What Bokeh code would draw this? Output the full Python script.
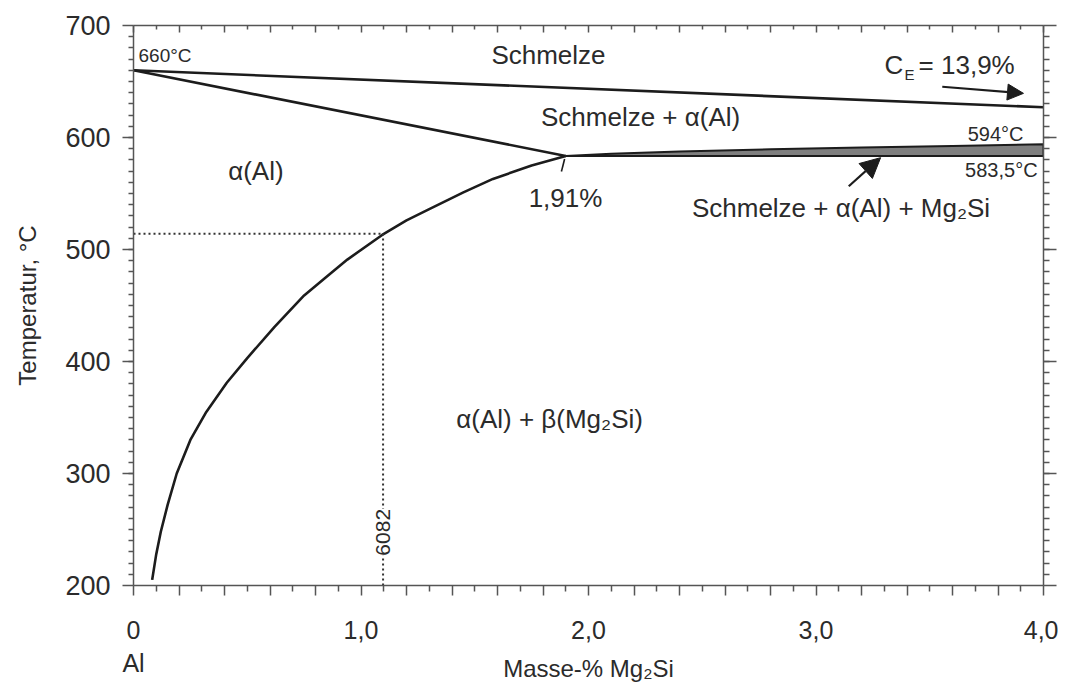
from bokeh.plotting import figure
from bokeh.models import (LinearAxis, FixedTicker, CustomJSTickFormatter, Label,
                          Arrow, NormalHead)
from bokeh.embed import file_html
from bokeh.resources import INLINE
import math

# ---------------- data ----------------
liquidus_x = [0.0, 4.0]
liquidus_y = [660.0, 627.0]

solidus_x = [0.0, 1.9]
solidus_y = [660.0, 583.5]

solvus_x = [0.082, 0.10, 0.12, 0.15, 0.19, 0.25, 0.32, 0.41, 0.50, 0.62,
            0.75, 0.85, 0.94, 1.093, 1.20, 1.30, 1.45, 1.58, 1.75, 1.90]
solvus_y = [205, 228, 248, 272, 300, 330, 355, 381, 403, 431,
            459, 476, 491, 513, 526, 536, 551, 563, 575, 583.5]

band_top_x = [1.9, 2.1, 2.4, 2.8, 3.2, 3.6, 4.0]
band_top_y = [583.5, 585.5, 587.5, 589.5, 591.0, 592.5, 594.0]
eutectic_T = 583.5

alloy_x = 1.097      # 6082
alloy_T = 514.0

x_ticks = [i / 5 for i in range(21)]
x_minor = [i / 10 for i in range(1, 40, 2)]
x_tick_labels = {0: "0\nAl", 1: "1,0", 2: "2,0", 3: "3,0", 4: "4,0"}
y_ticks = [200, 300, 400, 500, 600, 700]
y_minor = list(range(210, 700, 10))

FONT = "Liberation Sans"
TXT = "#2b2b2b"
LINE = "#1c1c1c"

p = figure(width=1058, height=685, x_range=(0, 4), y_range=(200, 700),
           output_backend="svg", toolbar_location=None,
           min_border_left=133, min_border_right=15, min_border_top=25,
           min_border_bottom=91)
p.xgrid.visible = False
p.ygrid.visible = False
p.outline_line_color = None

# ---- bottom axis ----
xa = p.xaxis[0]
xa.ticker = FixedTicker(ticks=x_ticks, minor_ticks=x_minor)
overrides = {t: "" for t in x_ticks}
for k, v in x_tick_labels.items():
    overrides[float(k)] = v
xa.major_label_overrides = overrides
xa.axis_label = "Masse-% Mg₂Si"
xa.major_tick_in = 0
xa.major_tick_out = 10
xa.minor_tick_in = 0
xa.minor_tick_out = 6
xa.major_label_standoff = 20
xa.axis_label_standoff = -25
xa.major_label_text_font_size = "25px"
xa.axis_label_text_font_size = "24px"

# ---- left axis ----
ya = p.yaxis[0]
ya.ticker = FixedTicker(ticks=y_ticks, minor_ticks=y_minor)
ya.axis_label = "Temperatur, °C"
ya.major_tick_in = 0
ya.major_tick_out = 11
ya.minor_tick_in = 0
ya.minor_tick_out = 5
ya.major_label_standoff = 12
ya.axis_label_standoff = 21
ya.major_label_text_font_size = "27px"
ya.axis_label_text_font_size = "24px"

# ---- top / right axes ----
blank = CustomJSTickFormatter(code="return ''")
top = LinearAxis(ticker=FixedTicker(ticks=x_ticks, minor_ticks=x_minor),
                 formatter=blank, major_tick_in=7, major_tick_out=0,
                 minor_tick_in=4, minor_tick_out=0, major_label_standoff=0)
right = LinearAxis(ticker=FixedTicker(ticks=y_ticks, minor_ticks=y_minor),
                   formatter=blank, major_tick_in=0, major_tick_out=13,
                   minor_tick_in=0, minor_tick_out=6, major_label_standoff=0)
p.add_layout(top, "above")
p.add_layout(right, "right")

for ax in (xa, ya, top, right):
    ax.axis_line_color = "#555555"
    ax.axis_line_width = 1.5
    ax.major_tick_line_color = "#555555"
    ax.minor_tick_line_color = "#555555"
    ax.major_tick_line_width = 1.5
    ax.minor_tick_line_width = 1.5
    ax.major_label_text_font = FONT
    ax.major_label_text_color = TXT
    ax.axis_label_text_font = FONT
    ax.axis_label_text_color = TXT
    ax.axis_label_text_font_style = "normal"

# ---------------- curves ----------------
band_xs = band_top_x + [band_top_x[-1], band_top_x[0]]
band_ys = band_top_y + [eutectic_T, eutectic_T]
p.patch(band_xs, band_ys, fill_color="#7f7f7f", line_color=LINE, line_width=2)

p.line(liquidus_x, liquidus_y, line_color=LINE, line_width=2.6)
p.line(solidus_x, solidus_y, line_color=LINE, line_width=2.6)
p.line(solvus_x, solvus_y, line_color=LINE, line_width=2.6,
       line_join="round")

p.line([0, alloy_x], [alloy_T, alloy_T], line_color="#333333",
       line_width=2, line_dash="2 3")
p.line([alloy_x, alloy_x], [200, alloy_T], line_color="#333333",
       line_width=2, line_dash="2 3")

# leader for 1,91 %
p.line([1.895, 1.881], [580.8, 569.7], line_color=LINE, line_width=1.6)

# arrows
p.add_layout(Arrow(end=NormalHead(size=16, fill_color=LINE, line_color=LINE),
                   x_start=3.555, y_start=645.3, x_end=3.912, y_end=639.4,
                   line_color=LINE, line_width=2.2))
p.add_layout(Arrow(end=NormalHead(size=20, fill_color=LINE, line_color=LINE),
                   x_start=3.144, y_start=556.5, x_end=3.284, y_end=582.0,
                   line_color=LINE, line_width=2.2))

# ---------------- labels ----------------
def lab(x, y, text, size, align="center", angle=0.0, bg=None):
    l = Label(x=x, y=y, text=text, text_font=FONT, text_font_size=f"{size}px",
              text_color=TXT, text_align=align, text_baseline="middle",
              angle=angle)
    if bg:
        l.background_fill_color = bg
    p.add_layout(l)

lab(1.824, 673.6, "Schmelze", 26)
lab(0.022, 673.0, "660°C", 19, align="left")
lab(2.229, 618.0, "Schmelze + α(Al)", 26)
lab(3.912, 603.3, "594°C", 20, align="right")
lab(3.974, 570.8, "583,5°C", 20, align="right")
lab(0.538, 570.0, "α(Al)", 26)
lab(1.899, 546.0, "1,91%", 26)
lab(3.11, 537.4, "Schmelze + α(Al) + Mg₂Si", 26)
lab(1.829, 348.5, "α(Al) + β(Mg₂Si)", 26)
lab(alloy_x, 247.5, "6082", 21, angle=math.pi / 2, bg="white")

# C_E = 13,9 %
lab(3.301, 664.9, "C", 26, align="left")
lab(3.389, 656.5, "E", 15, align="left")
lab(3.451, 664.9, "= 13,9%", 26, align="left")

open("out.html", "w").write(file_html(p, INLINE))
